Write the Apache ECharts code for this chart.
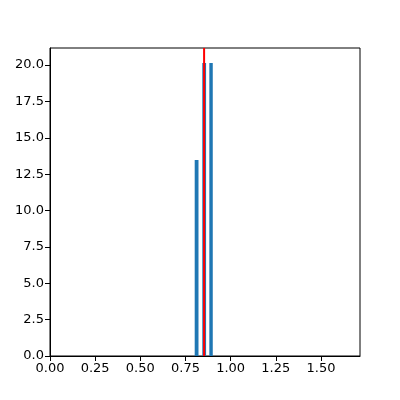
<!DOCTYPE html>
<html><head><meta charset="utf-8">
<script src="https://cdn.jsdelivr.net/npm/echarts@6/dist/echarts.min.js"></script>
<style>html,body{margin:0;padding:0;background:#fff}#c{width:400px;height:400px}</style>
</head><body><div id="c"></div>
<script>
// Histogram bins (left edge, right edge) and heights
const binStarts = [0.801, 0.843, 0.882];
const binEnds   = [0.822, 0.864, 0.901];
const heights   = [13.47, 20.14, 20.14];
const markerX   = 0.853;
const xTicks = [0, 0.25, 0.5, 0.75, 1.0, 1.25, 1.5];
const yTicks = [0, 2.5, 5, 7.5, 10, 12.5, 15, 17.5, 20];

const xMax = 1.716, yMax = 21.17;
const font = 'DejaVu Sans';
const chart = echarts.init(document.getElementById('c'), null, {renderer:'canvas'});
const barData = binStarts.map((s,i)=>[s, binEnds[i], heights[i]]);
chart.setOption({
  animation:false,
  grid:{left:50,right:40,top:48,bottom:44,show:true,borderColor:'#000',borderWidth:1,backgroundColor:'transparent'},
  xAxis:{type:'value',min:0,max:xMax,interval:0.25,
    axisLine:{show:true,onZero:false,lineStyle:{color:'#000',width:1}},
    axisTick:{show:true,length:5,lineStyle:{color:'#000'},customValues:xTicks},
    axisLabel:{color:'#000',fontFamily:font,fontSize:13,margin:6,customValues:xTicks,formatter:v=>v.toFixed(2),showMaxLabel:true,hideOverlap:false},
    splitLine:{show:false}},
  yAxis:{type:'value',min:0,max:yMax,interval:2.5,
    axisLine:{show:true,lineStyle:{color:'#000',width:1}},
    axisTick:{show:true,length:5,lineStyle:{color:'#000'},customValues:yTicks},
    axisLabel:{color:'#000',fontFamily:font,fontSize:13,margin:6,customValues:yTicks,formatter:v=>v.toFixed(1),showMaxLabel:true,hideOverlap:false},
    splitLine:{show:false}},
  series:[
    {type:'custom',data:barData,
     renderItem:(params,api)=>{
       const p0=api.coord([api.value(0),api.value(2)]);
       const p1=api.coord([api.value(1),0]);
       return {type:'rect',shape:{x:p0[0],y:p0[1],width:p1[0]-p0[0],height:p1[1]-p0[1]},style:{fill:'#1f77b4'}};
     },
     encode:{x:[0,1],y:2}},
    {type:'line',data:[[markerX,0],[markerX,yMax]],symbol:'none',
     lineStyle:{color:'#ff0000',width:2}}
  ]
});
</script></body></html>
